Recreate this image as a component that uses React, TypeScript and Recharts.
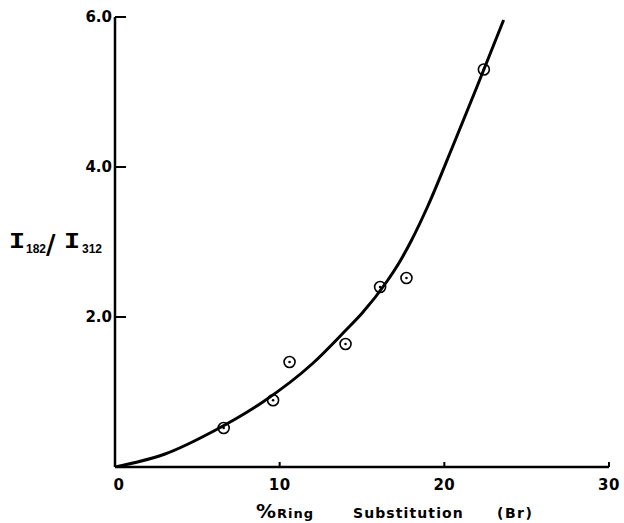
import React from 'react';
import { ComposedChart, Line, Scatter, XAxis, YAxis, Label } from 'recharts';

const curveX = [0, 3, 6, 9, 12, 14, 15, 16.5, 17.3, 18, 19, 20.5, 22, 23.6];
const curveY = [0, 0.17, 0.48, 0.87, 1.38, 1.82, 2.05, 2.47, 2.74, 3.02, 3.48, 4.27, 5.08, 5.96];
const pointX = [6.6, 9.6, 10.6, 14.0, 16.1, 17.7, 22.4];
const pointY = [0.52, 0.89, 1.4, 1.64, 2.4, 2.52, 5.3];
const xTicks = [0, 10, 20, 30];
const xTickLabels = ['0', '10', '20', '30'];
const yTicks = [2, 4, 6];
const yTickLabels = ['2.0', '4.0', '6.0'];

const curveData = curveX.map((x, i) => ({ x, y: curveY[i] }));
const pointData = pointX.map((x, i) => ({ x, y: pointY[i] }));

const FONT = '"DejaVu Sans", sans-serif';
const SUBFONT = '"Liberation Sans", Arial, sans-serif';

const YTick = (props: any) => {
  const { x, y, payload } = props;
  const idx = yTicks.indexOf(payload.value);
  return (
    <g>
      <line x1={x} x2={x + 11} y1={y} y2={y} stroke="#000" strokeWidth={2} />
      <text x={x - 3} y={y} textAnchor="end" dominantBaseline="central" fontFamily={FONT} fontWeight="bold" fontSize={15} fill="#000">
        {idx >= 0 ? yTickLabels[idx] : ''}
      </text>
    </g>
  );
};

const XTick = (props: any) => {
  const { x, y, payload } = props;
  const idx = xTicks.indexOf(payload.value);
  return (
    <g>
      {payload.value !== 0 && <line x1={x} x2={x} y1={y} y2={y - 5} stroke="#000" strokeWidth={2} />}
      <text x={x + (payload.value === 0 ? 4 : 0)} y={y + 18} textAnchor="middle" dominantBaseline="central" fontFamily={FONT} fontWeight="bold" fontSize={15} letterSpacing={0.5} fill="#000">
        {idx >= 0 ? xTickLabels[idx] : ''}
      </text>
    </g>
  );
};

const PointShape = (props: any) => {
  const { cx, cy } = props;
  return (
    <g>
      <circle cx={cx} cy={cy} r={5.5} stroke="#000" strokeWidth={1.6} fill="none" />
      <circle cx={cx} cy={cy} r={1.3} fill="#000" />
    </g>
  );
};

const XLabel = () => (
  <text fontFamily={FONT} fontWeight="bold" fill="#000">
    <tspan x={256} y={518} fontSize={20}>%</tspan>
    <tspan x={277} y={518} fontSize={13} letterSpacing={1}>Ring</tspan>
    <tspan x={353} y={518} fontSize={14} letterSpacing={1.1}>Substitution</tspan>
    <tspan x={497} y={518} fontSize={14} letterSpacing={1.5}>(Br)</tspan>
  </text>
);

const YLabel = () => (
  <g fill="#000">
    <text x={9} y={248} fontFamily='"Liberation Mono", monospace' fontWeight="bold" fontSize={22} textLength={16} lengthAdjust="spacingAndGlyphs">I</text>
    <text x={26} y={253} fontFamily={SUBFONT} fontWeight="bold" fontSize={12}>182</text>
    <text x={46} y={254} fontFamily={FONT} fontWeight="bold" fontSize={26}>/</text>
    <text x={64} y={248} fontFamily='"Liberation Mono", monospace' fontWeight="bold" fontSize={22} textLength={16} lengthAdjust="spacingAndGlyphs">I</text>
    <text x={82} y={253} fontFamily={SUBFONT} fontWeight="bold" fontSize={12}>312</text>
  </g>
);

export default function App() {
  return (
    <div style={{ width: 624, height: 523 }}>
      <style>{`html,body{margin:0;padding:0;overflow:hidden}`}</style>
      <ComposedChart width={624} height={523} margin={{ top: 17, right: 15, left: 8, bottom: 0 }}>
        <XAxis
          type="number"
          dataKey="x"
          domain={[0, 30]}
          ticks={xTicks}
          height={56}
          tickSize={0}
          tickMargin={0}
          tickLine={false}
          tick={<XTick />}
          axisLine={{ stroke: '#000', strokeWidth: 2.5 }}
          allowDataOverflow
        >
          <Label content={<XLabel />} />
        </XAxis>
        <YAxis
          type="number"
          dataKey="y"
          domain={[0, 6]}
          ticks={yTicks}
          width={107}
          tickSize={0}
          tickMargin={0}
          tickLine={false}
          tick={<YTick />}
          axisLine={{ stroke: '#000', strokeWidth: 2.5 }}
          allowDataOverflow
        >
          <Label content={<YLabel />} />
        </YAxis>
        <Scatter data={pointData} dataKey="y" shape={<PointShape />} isAnimationActive={false} />
        <Line data={curveData} dataKey="y" type="monotone" stroke="#000" strokeWidth={3} dot={false} activeDot={false} isAnimationActive={false} />
      </ComposedChart>
    </div>
  );
}
